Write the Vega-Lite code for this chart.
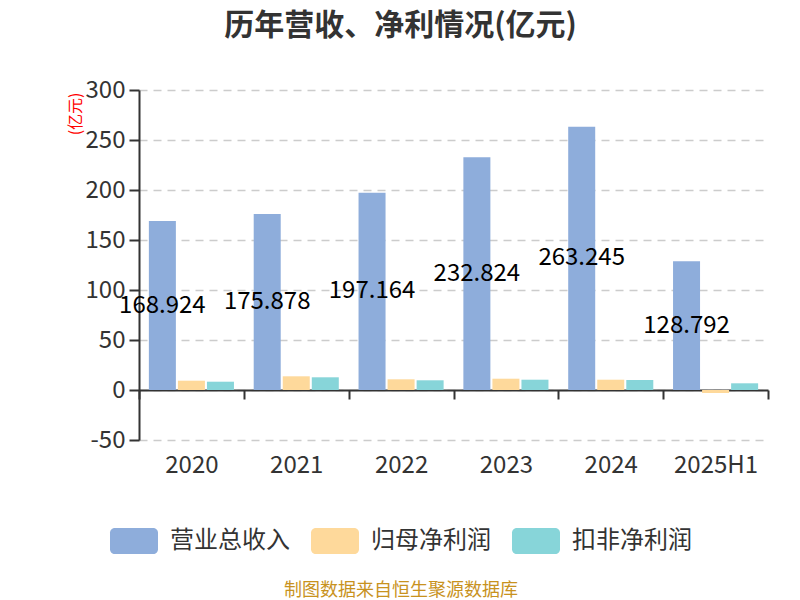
{
  "$schema": "https://vega.github.io/schema/vega-lite/v6.json",
  "width": 629,
  "height": 350,
  "autosize": {"type": "none"},
  "padding": {"left": 139, "top": 90, "right": 32, "bottom": 160},
  "title": {
    "text": "历年营收、净利情况(亿元)",
    "fontSize": 30,
    "fontWeight": "bold",
    "color": "#333333",
    "font": "Noto Sans CJK SC",
    "anchor": "middle",
    "dx": -53,
    "offset": 37
  },
  "data": {
    "values": [
      {"year": "2020", "series": "营业总收入", "value": 168.924},
      {"year": "2021", "series": "营业总收入", "value": 175.878},
      {"year": "2022", "series": "营业总收入", "value": 197.164},
      {"year": "2023", "series": "营业总收入", "value": 232.824},
      {"year": "2024", "series": "营业总收入", "value": 263.245},
      {"year": "2025H1", "series": "营业总收入", "value": 128.792},
      {"year": "2020", "series": "归母净利润", "value": 9.3},
      {"year": "2021", "series": "归母净利润", "value": 13.7},
      {"year": "2022", "series": "归母净利润", "value": 10.7},
      {"year": "2023", "series": "归母净利润", "value": 11.3},
      {"year": "2024", "series": "归母净利润", "value": 10.3},
      {"year": "2025H1", "series": "归母净利润", "value": -3.0},
      {"year": "2020", "series": "扣非净利润", "value": 8.3},
      {"year": "2021", "series": "扣非净利润", "value": 12.7},
      {"year": "2022", "series": "扣非净利润", "value": 9.7},
      {"year": "2023", "series": "扣非净利润", "value": 10.3},
      {"year": "2024", "series": "扣非净利润", "value": 10.0},
      {"year": "2025H1", "series": "扣非净利润", "value": 6.7}
    ]
  },
  "encoding": {
    "x": {
      "field": "year",
      "type": "nominal",
      "sort": null,
      "scale": {"paddingInner": 0, "paddingOuter": 0},
      "axis": {
        "title": null,
        "labelAngle": 0,
        "offset": -50,
        "labelPadding": 54,
        "labelFontSize": 24,
        "labelColor": "#333333",
        "domainColor": "#333333",
        "domainWidth": 2,
        "tickColor": "#333333",
        "tickWidth": 2,
        "tickSize": 9,
        "tickBand": "extent",
        "grid": false
      }
    },
    "xOffset": {
      "field": "series",
      "type": "nominal",
      "sort": ["营业总收入", "归母净利润", "扣非净利润"],
      "scale": {"paddingInner": 0.07, "paddingOuter": 0.34}
    }
  },
  "layer": [
    {
      "mark": {"type": "bar"},
      "encoding": {
        "y": {
          "field": "value",
          "type": "quantitative",
          "scale": {"domain": [-50, 300], "nice": false, "zero": false},
          "axis": {
            "values": [-50, 0, 50, 100, 150, 200, 250, 300],
            "labelExpr": "replace(datum.label, '−', '-')",
            "title": "(亿元)",
            "titleColor": "#ff0000",
            "titleFontSize": 16,
            "titleFontWeight": "normal",
            "titleAngle": -90,
            "titleX": -64,
            "titleY": 2,
            "titleAlign": "right",
            "titleBaseline": "middle",
            "labelFontSize": 24,
            "labelColor": "#333333",
            "labelPadding": 4,
            "domainColor": "#333333",
            "domainWidth": 2,
            "tickColor": "#333333",
            "tickWidth": 2,
            "tickSize": 10,
            "gridColor": "#cccccc",
            "gridDash": [8, 6],
            "gridWidth": 1.5
          }
        },
        "color": {
          "field": "series",
          "type": "nominal",
          "sort": ["营业总收入", "归母净利润", "扣非净利润"],
          "scale": {
            "domain": ["营业总收入", "归母净利润", "扣非净利润"],
            "range": ["#8eaddb", "#fed99b", "#87d5d9"]
          },
          "legend": {
            "orient": "none",
            "direction": "horizontal",
            "legendX": -29,
            "legendY": 427,
            "title": "制图数据来自恒生聚源数据库",
            "titleOrient": "bottom",
            "titleAnchor": "middle",
            "titleColor": "#c8921e",
            "titleFontSize": 18,
            "titleFontWeight": "normal",
            "titlePadding": 28,
            "titleLimit": 600,
            "symbolType": "M-0.8,-0.54H0.8A0.2,0.2 0 0 1 1,-0.34V0.34A0.2,0.2 0 0 1 0.8,0.54H-0.8A0.2,0.2 0 0 1 -1,0.34V-0.34A0.2,0.2 0 0 1 -0.8,-0.54Z",
            "symbolSize": 2304,
            "symbolStrokeWidth": 0,
            "symbolOpacity": 1,
            "labelFontSize": 24,
            "labelColor": "#333333",
            "labelOffset": 12,
            "labelLimit": 300,
            "columnPadding": 20,
            "symbolOffset": 0
          }
        }
      }
    },
    {
      "transform": [
        {"filter": "datum.series === '营业总收入'"},
        {"calculate": "datum.value / 2", "as": "mid"}
      ],
      "mark": {"type": "text", "fontSize": 24, "color": "#000000", "baseline": "middle"},
      "encoding": {
        "y": {"field": "mid", "type": "quantitative"},
        "text": {"field": "value", "type": "quantitative", "format": ".3f"}
      }
    }
  ],
  "config": {
    "font": "Noto Sans CJK SC",
    "view": {"stroke": null}
  }
}
